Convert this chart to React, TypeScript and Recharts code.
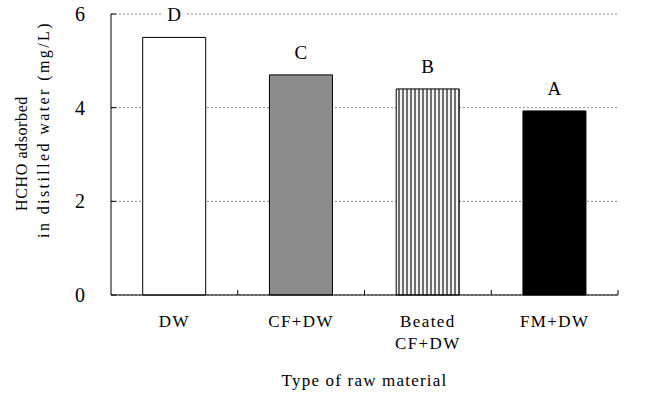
import React from "react"
import { BarChart, Bar, XAxis, YAxis, CartesianGrid, Cell, LabelList } from "recharts"

const categories = ["DW", "CF+DW", "Beated\nCF+DW", "FM+DW"]
const values = [5.5, 4.7, 4.4, 3.93]
const letters = ["D", "C", "B", "A"]
const yTicks = [0, 2, 4, 6]
const fills = ["#ffffff", "#8c8c8c", "url(#vstripes)", "#000000"]

const FONT = "'Times New Roman', 'Liberation Serif', Times, serif"

const data = categories.map((name, i) => ({ name, value: values[i], letter: letters[i] }))

function CategoryTick(props: any) {
  const { x, y, payload, width, visibleTicksCount } = props
  const band = width / visibleTicksCount
  const lines = String(payload.value).split("\n")
  return (
    <g>
      <line x1={x + band / 2} y1={y} x2={x + band / 2} y2={y - 5} stroke="#000" />
      <text
        x={x}
        y={y}
        textAnchor="middle"
        style={{ fontFamily: FONT, fontSize: 17, letterSpacing: 1.4 }}
        fill="#000"
      >
        {lines.map((l, i) => (
          <tspan key={i} x={x} dy={i === 0 ? 32 : 22}>
            {l}
          </tspan>
        ))}
      </text>
    </g>
  )
}

function ValueTick(props: any) {
  const { x, y, payload } = props
  return (
    <g>
      <line x1={x} y1={y} x2={x + 5} y2={y} stroke="#000" />
      <text
        x={x - 31}
        y={y}
        dy={7}
        textAnchor="middle"
        style={{ fontFamily: FONT, fontSize: 20 }}
        fill="#000"
      >
        {payload.value}
      </text>
    </g>
  )
}

function LetterLabel(props: any) {
  const { x, y, width, value } = props
  const cx = x + width / 2
  const cy = y - 23
  return (
    <g>
      <rect x={cx - 11} y={cy - 10} width={22} height={20} fill="#fff" />
      <text x={cx} y={cy + 7} textAnchor="middle" style={{ fontFamily: FONT, fontSize: 19 }} fill="#000">
        {value}
      </text>
    </g>
  )
}

function YTitle(props: any) {
  const { viewBox } = props
  const mid = viewBox.y + viewBox.height / 2
  const c1 = mid - 1
  const c2 = mid - 25
  return (
    <g fill="#000">
      <text
        x={22}
        y={c1}
        textAnchor="middle"
        transform={`rotate(-90 22 ${c1})`}
        dy={5}
        style={{ fontFamily: FONT, fontSize: 16, letterSpacing: 0.6 }}
      >
        HCHO adsorbed
      </text>
      <text
        x={44}
        y={c2}
        textAnchor="middle"
        transform={`rotate(-90 44 ${c2})`}
        dy={5}
        style={{ fontFamily: FONT, fontSize: 16, letterSpacing: 2.4 }}
      >
        in distilled water (mg/L)
      </text>
    </g>
  )
}

function XTitle(props: any) {
  const { viewBox } = props
  return (
    <text
      x={viewBox.x + viewBox.width / 2}
      y={viewBox.y + 91}
      textAnchor="middle"
      style={{ fontFamily: FONT, fontSize: 17, letterSpacing: 1.2 }}
      fill="#000"
    >
      Type of raw material
    </text>
  )
}

export default function App() {
  return (
    <div style={{ position: "absolute", left: 0, top: 0, width: 664, height: 396, background: "#fff" }}>
      <svg width="0" height="0" style={{ position: "absolute" }}>
        <defs>
          <pattern id="vstripes" patternUnits="userSpaceOnUse" width={4} height={4}>
            <rect x={0} y={0} width={4} height={4} fill="#f4f4f4" />
            <rect x={2} y={0} width={2} height={4} fill="#6e6e6e" />
          </pattern>
        </defs>
      </svg>
      <BarChart
        width={664}
        height={396}
        data={data}
        margin={{ top: 14, right: 46, bottom: 0, left: 0 }}
        barCategoryGap="25%"
      >
        <CartesianGrid vertical={false} stroke="#8a8a8a" strokeDasharray="2 2" />
        <XAxis
          dataKey="name"
          interval={0}
          height={101}
          axisLine={{ stroke: "#000" }}
          tickLine={false}
          tickSize={0}
          tickMargin={0}
          tick={<CategoryTick />}
          label={<XTitle />}
        />
        <YAxis
          domain={[0, 6]}
          ticks={yTicks}
          width={111}
          axisLine={{ stroke: "#000" }}
          tickLine={false}
          tickSize={0}
          tickMargin={0}
          tick={<ValueTick />}
          label={<YTitle />}
        />
        <Bar dataKey="value" stroke="#000" strokeWidth={1} isAnimationActive={false}>
          {data.map((d, i) => (
            <Cell key={d.name} fill={fills[i]} />
          ))}
          <LabelList dataKey="letter" content={<LetterLabel />} />
        </Bar>
      </BarChart>
    </div>
  )
}
